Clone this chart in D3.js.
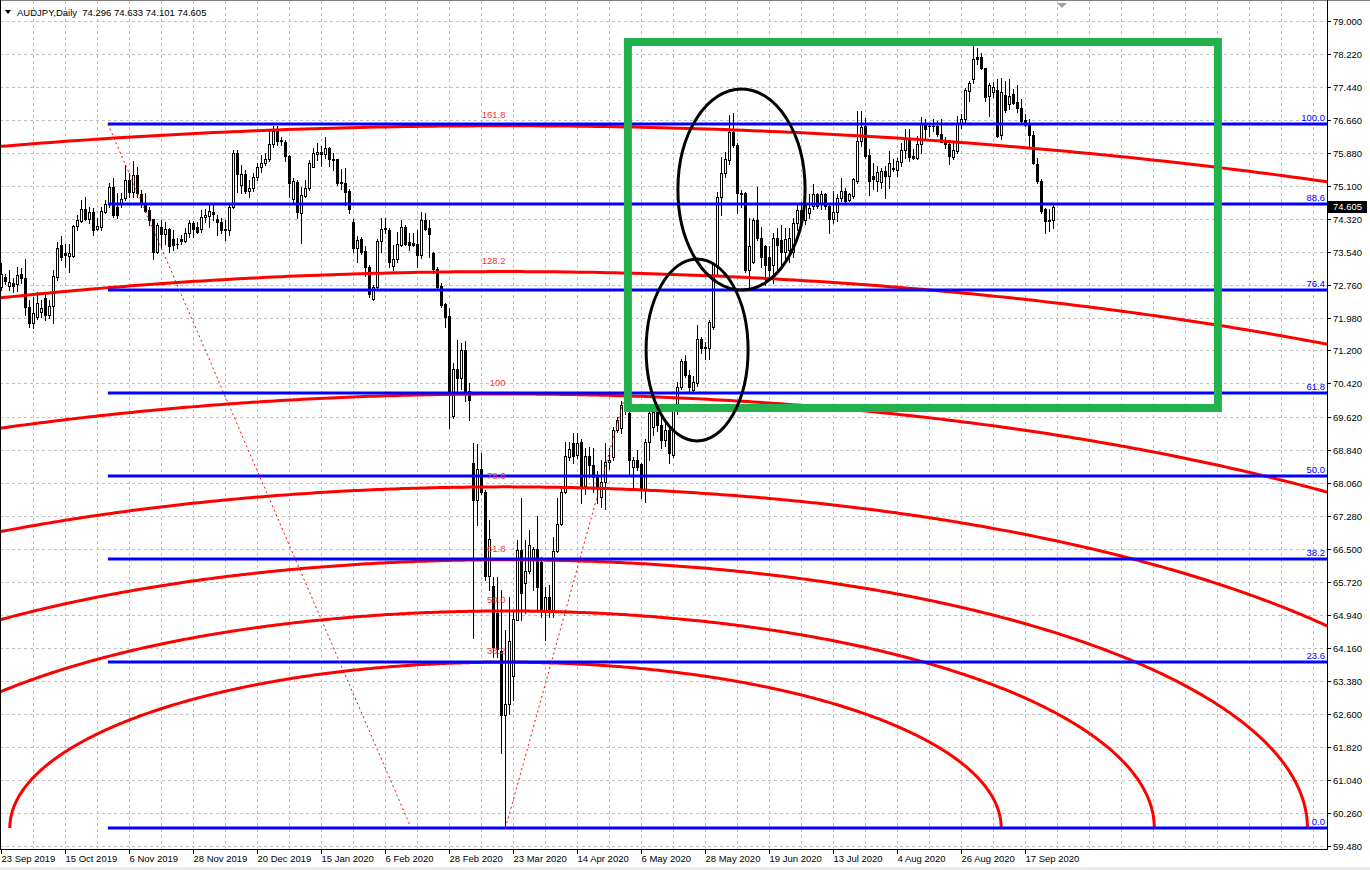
<!DOCTYPE html>
<html><head><meta charset="utf-8">
<script src="https://cdn.jsdelivr.net/npm/d3@7"></script>
<style>body{margin:0;background:#fff}svg{display:block}text{font-family:"Liberation Sans",Arial,sans-serif}</style>
</head><body><svg id="c" width="1370" height="870"></svg>
<script>
// ---------------- DATA ----------------
const opens=[
72.71,72.93,72.72,72.79,72.77,73.01,72.91,72.22,71.84,72.00,
72.12,72.43,72.04,72.25,72.93,73.70,73.50,73.44,73.44,74.15,
74.27,74.55,74.30,74.47,74.07,74.13,74.48,74.66,75.07,74.60,
74.68,74.80,75.23,74.96,75.35,74.89,74.70,74.52,74.30,73.54,
74.13,73.96,74.07,73.84,73.73,73.83,73.80,73.99,74.21,74.13,
74.07,74.35,74.39,74.48,74.31,74.25,74.07,74.06,74.59,75.86,
75.11,75.37,74.98,75.04,75.30,75.53,75.63,75.72,76.08,76.40,
76.17,76.12,75.80,74.78,75.19,74.46,74.86,75.04,75.55,75.85,
75.89,75.85,75.98,75.73,75.72,75.19,75.17,74.97,74.25,73.62,
73.84,73.56,73.17,72.41,72.69,73.79,74.07,74.05,73.20,73.36,
73.70,74.13,73.76,73.75,73.73,73.46,74.29,74.09,73.51,73.12,
72.73,72.30,72.02,69.64,70.76,70.54,71.21,70.23,68.55,67.66,
68.39,67.86,65.87,65.63,64.98,64.10,62.58,62.84,63.49,64.83,
66.48,65.69,65.99,66.28,66.50,66.20,65.05,65.38,65.05,66.46,
67.10,67.86,68.69,69.00,68.73,69.04,68.00,68.70,68.49,68.20,
67.74,68.10,68.57,68.69,69.33,69.36,69.90,69.71,68.45,68.61,
68.51,67.90,69.04,69.40,69.75,69.44,69.08,69.32,68.73,69.79,
70.34,70.94,70.62,70.27,70.42,71.46,71.28,71.27,71.76,73.18,
74.84,75.39,75.70,76.36,76.06,74.93,74.93,73.10,73.30,74.29,
73.85,73.66,73.42,73.22,73.85,73.81,73.54,73.58,73.54,74.21,
74.52,74.29,74.46,74.62,74.89,74.66,74.89,74.62,74.32,74.48,
74.81,74.97,74.76,74.85,75.21,76.15,76.51,75.82,75.33,75.21,
75.19,75.45,75.33,75.52,75.48,75.66,75.94,76.23,75.80,75.76,
76.08,76.55,76.51,76.50,76.50,76.33,76.19,76.08,75.78,75.92,
76.55,76.67,77.34,77.61,78.14,78.14,77.87,77.22,77.31,77.36,
76.29,77.24,77.02,77.26,77.08,76.94,76.64,76.53,76.29,75.60,
75.21,74.55,74.29,74.296];
const highs=[
73.26,73.02,73.10,72.91,73.18,73.14,73.36,72.39,72.47,72.59,
72.39,72.59,72.39,73.10,73.77,73.91,73.73,73.73,74.17,74.40,
74.76,74.84,74.60,74.56,74.33,74.60,74.76,75.17,75.27,74.92,
74.92,75.59,75.39,75.67,75.55,74.99,74.92,74.60,74.32,74.21,
74.29,74.25,74.09,74.05,73.85,73.93,74.09,74.29,74.26,74.25,
74.52,74.54,74.68,74.68,74.40,74.33,74.29,74.68,75.94,75.94,
75.59,75.47,75.23,75.39,75.63,75.82,75.86,76.41,76.50,76.50,
76.26,76.18,75.82,75.27,75.23,75.07,75.23,75.71,75.98,76.10,
76.04,76.26,76.02,75.88,75.74,75.49,75.51,75.03,74.30,73.90,
73.89,73.66,73.22,72.75,73.83,74.33,74.33,74.09,73.70,74.01,
74.29,74.17,73.97,73.97,74.05,74.48,74.44,74.29,73.54,73.18,
72.79,72.32,72.20,70.90,71.45,71.37,71.42,70.42,69.00,68.99,
68.78,67.90,67.19,65.85,65.85,65.53,64.60,65.38,65.06,66.72,
67.70,66.72,66.95,66.56,67.28,66.32,65.61,65.65,66.80,67.70,
67.98,69.04,69.04,69.25,69.26,69.10,68.90,68.92,68.90,68.35,
68.60,69.00,68.90,69.40,69.63,70.00,70.30,69.75,68.69,68.85,
68.53,69.10,69.75,69.90,69.85,69.63,69.50,69.36,69.87,70.45,
71.00,71.09,70.74,70.60,71.80,71.53,71.40,71.92,73.30,74.96,
75.78,75.90,76.77,76.81,76.10,75.00,74.96,74.33,74.33,75.07,
74.13,73.70,73.66,73.99,74.09,74.17,74.09,74.09,74.33,74.68,
74.72,74.95,74.89,75.13,74.93,74.97,74.93,74.66,74.97,74.89,
75.29,75.05,74.93,75.29,76.86,76.86,76.71,75.96,75.64,75.56,
75.52,75.56,75.92,75.72,75.76,76.11,76.43,76.43,75.96,76.27,
76.72,76.67,76.55,76.68,76.63,76.67,76.25,76.19,76.11,76.75,
76.79,77.42,77.57,78.40,78.36,78.24,77.89,77.53,77.55,77.61,
77.65,77.57,77.61,77.38,77.49,77.14,76.79,76.67,76.39,75.76,
75.25,74.58,74.54,74.633];
const lows=[
72.63,72.77,72.63,72.59,72.61,72.79,72.04,71.76,71.72,71.94,
72.00,71.92,71.96,71.84,72.87,73.34,73.18,73.06,73.42,74.05,
74.25,74.29,74.21,73.93,74.05,74.05,74.44,74.60,74.35,74.33,
74.60,74.76,74.84,74.84,74.84,74.60,74.48,74.17,73.36,73.50,
73.64,73.73,73.54,73.58,73.62,73.73,73.77,73.89,73.89,73.97,
74.01,74.25,74.13,74.29,73.93,73.97,73.81,73.93,74.56,74.96,
74.92,74.92,74.84,74.98,75.23,75.43,75.59,75.67,76.02,76.06,
76.06,75.67,74.84,74.72,74.33,73.75,74.84,75.00,75.53,75.71,
75.56,75.75,75.56,75.47,75.11,75.01,74.64,74.44,73.54,73.30,
73.48,72.95,72.47,72.39,72.63,73.54,73.97,73.17,73.11,73.30,
73.66,73.70,73.58,73.66,73.18,73.38,74.05,73.42,73.03,72.67,
72.24,71.76,69.36,69.60,70.25,70.30,70.01,69.56,64.40,67.07,
67.80,65.77,65.54,63.96,63.95,61.67,59.90,62.60,62.93,64.82,
64.83,64.98,65.93,65.53,65.06,64.90,64.35,64.90,64.90,66.44,
67.07,67.82,68.60,68.55,68.65,67.60,67.80,68.20,67.85,67.60,
67.50,67.45,68.40,68.60,69.28,69.25,69.70,68.29,67.98,68.37,
67.70,67.62,68.60,69.20,69.30,68.89,68.95,68.53,68.69,69.70,
70.30,70.58,70.23,70.20,70.35,71.13,71.00,71.00,71.70,73.00,
74.40,75.31,75.60,76.02,74.44,74.60,73.06,72.67,73.26,73.81,
73.18,72.75,72.90,72.79,73.10,73.22,73.30,73.30,73.42,74.05,
74.21,74.20,74.34,74.54,74.58,74.54,74.54,73.99,74.22,74.26,
74.74,74.70,74.74,74.81,75.17,76.04,75.76,74.87,75.01,74.97,
75.05,74.81,75.05,75.45,75.33,75.56,75.76,75.68,75.72,75.72,
75.86,76.19,76.27,76.39,76.27,76.13,76.00,75.60,75.72,75.88,
76.47,76.60,77.10,77.53,77.97,77.85,77.10,76.75,77.20,76.25,
76.20,76.83,76.90,77.02,76.85,76.55,76.51,76.04,75.60,75.17,
74.46,73.99,74.03,74.101];
const closes=[
73.02,72.85,72.83,72.73,72.98,72.91,72.22,71.84,72.08,72.32,
72.20,72.04,72.25,72.95,73.62,73.42,73.45,73.50,74.15,74.29,
74.55,74.31,74.48,74.05,74.14,74.50,74.66,75.07,74.40,74.40,
74.78,75.23,74.96,75.35,74.92,74.68,74.51,74.29,73.54,74.17,
73.96,74.07,73.67,73.70,73.71,73.78,73.99,74.21,74.07,74.01,
74.35,74.40,74.50,74.42,74.25,74.05,74.06,74.59,75.86,75.37,
75.37,74.97,75.04,75.30,75.53,75.63,75.72,76.08,76.39,76.16,
76.16,75.80,75.15,75.21,74.48,74.88,75.04,75.63,75.86,75.89,
75.85,75.98,75.72,75.71,75.15,75.15,74.96,74.54,73.62,73.82,
73.54,73.17,72.54,72.69,73.79,74.07,74.10,73.29,73.36,73.71,
74.13,73.73,73.70,73.70,73.46,74.29,74.07,73.96,73.12,72.71,
72.28,72.00,70.23,70.76,70.55,71.21,70.23,70.03,67.66,68.39,
67.86,65.87,66.73,64.19,64.15,62.58,62.84,64.33,64.85,66.48,
65.46,65.99,66.61,66.50,65.61,65.05,65.38,65.05,66.46,67.10,
67.86,68.70,68.86,68.70,69.02,68.00,68.70,68.49,68.20,67.98,
68.10,68.57,68.60,69.33,69.56,69.91,70.10,68.61,68.61,68.45,
67.90,69.04,69.71,69.75,69.44,69.08,69.32,68.77,69.79,70.34,
70.94,70.62,70.33,70.46,71.46,71.25,71.25,71.88,73.26,74.84,
75.39,75.74,76.36,76.06,74.92,74.90,73.10,73.66,74.29,73.85,
73.42,73.22,73.10,73.85,73.70,73.54,73.83,73.85,74.21,74.52,
74.25,74.64,74.58,74.89,74.62,74.89,74.62,74.30,74.48,74.81,
74.97,74.74,74.89,75.25,76.15,76.49,75.80,75.21,75.25,75.42,
75.45,75.33,75.64,75.49,75.68,75.94,76.23,75.78,75.76,76.08,
76.55,76.43,76.50,76.52,76.31,76.13,76.08,75.80,75.94,76.55,
76.67,77.36,77.53,78.09,78.10,77.87,77.20,77.47,77.44,76.27,
77.31,76.89,77.22,77.06,76.94,76.63,76.53,76.29,75.64,75.21,
74.50,74.26,74.26,74.605];

const dateLabels=["23 Sep 2019","15 Oct 2019","6 Nov 2019","28 Nov 2019","20 Dec 2019","15 Jan 2020","6 Feb 2020","28 Feb 2020","23 Mar 2020","14 Apr 2020","6 May 2020","28 May 2020","19 Jun 2020","13 Jul 2020","4 Aug 2020","26 Aug 2020","17 Sep 2020"];
const barsPerDateLabel=16;
const priceTicks=[79.000,78.220,77.440,76.660,75.880,75.100,74.320,73.540,72.760,71.980,71.200,70.420,69.620,68.840,68.060,67.280,66.500,65.720,64.940,64.160,63.380,62.600,61.820,61.040,60.260,59.480];

// Fibonacci retracement (blue)
const fiboLevels=[0,23.6,38.2,50.0,61.8,76.4,88.6,100.0];
const fiboHigh={bar:26.6,price:76.557};
const fiboLow={bar:102.4,price:59.906};
// Fibonacci arcs (red)
const arcLevels=[38.2,50.0,61.8,78.6,100,128.2,161.8];
const arcLabels=["38.2","50.0","61.8","78.6","100","128.2","161.8"];
const arcCenter={bar:126,price:59.906};
const arcAnchor={bar:156,price:70.171};
const arcWidthBars=324.4; // horizontal radius at level 100
// annotations
const ellipses=[{bar:185,price:75.007,rBars:15.9,rPrice:2.377},{bar:173.9,price:71.212,rBars:12.75,rPrice:2.152}];
const box={bar0:156.6,bar1:304.1,p0:78.496,p1:69.84};
const title="AUDJPY,Daily  74.296 74.633 74.101 74.605";
const lastPrice=74.605;

// ---------------- DRAW ----------------
const W=1370,H=870,PR=1327,PB=849,PT=1;
const svg=d3.select('#c');
const x=d3.scaleLinear().domain([0,16]).range([1.5,65.5]);
const y=d3.scaleLinear().domain([59.48,79.0]).range([846.0,20.7]);
const FS='9.5px';

svg.append('rect').attr('width',W).attr('height',H).attr('fill','#fff');
svg.append('rect').attr('x',0).attr('y',867).attr('width',W).attr('height',3).attr('fill','#ececec');
svg.append('defs').append('clipPath').attr('id','plot').append('rect')
  .attr('x',1).attr('y',PT).attr('width',PR-1).attr('height',PB-PT);
const g=svg.append('g').attr('clip-path','url(#plot)');

// grid
const grid=g.append('g').attr('stroke','#c0c0c0').attr('stroke-width',1).attr('stroke-dasharray','3,3');
priceTicks.forEach(t=>{const yy=Math.round(y(t))+0.5;grid.append('line').attr('x1',0).attr('x2',PR).attr('y1',yy).attr('y2',yy);});
for(let b=8;x(b)<PR;b+=8){grid.append('line').attr('x1',x(b)).attr('x2',x(b)).attr('y1',PT).attr('y2',PB);}

// candles
const cg=g.append('g');
opens.forEach((o,i)=>{
  const c=closes[i],h=highs[i],l=lows[i],cx=x(i);
  cg.append('line').attr('x1',cx).attr('x2',cx).attr('y1',Math.round(y(h))).attr('y2',Math.round(y(l))+1).attr('stroke','#000').attr('stroke-width',1);
  const yt=Math.round(y(Math.max(o,c))),yb=Math.round(y(Math.min(o,c)));
  if(c>=o){
    if(yb-yt<1){cg.append('rect').attr('x',cx-1.5).attr('y',yt).attr('width',3).attr('height',1).attr('fill','#000');}
    else cg.append('rect').attr('x',cx-1).attr('y',yt+0.5).attr('width',2).attr('height',yb-yt).attr('fill','#fff').attr('stroke','#000').attr('stroke-width',1);
  } else {
    cg.append('rect').attr('x',cx-1.5).attr('y',yt).attr('width',3).attr('height',Math.max(1,yb-yt+1)).attr('fill','#000');
  }
});

// fibo arcs
const acx=x(arcCenter.bar),acy=y(arcCenter.price);
const unitRy=acy-y(arcAnchor.price);
const unitRx=x(arcCenter.bar+arcWidthBars)-acx;
const ag=g.append('g');
arcLevels.forEach((L,j)=>{
  const ry=unitRy*L/100,rx=unitRx*L/100;
  const pts=d3.range(0,721).map(k=>{const t=Math.PI*k/720;return [acx+rx*Math.cos(t),acy-ry*Math.sin(t)];});
  ag.append('path').attr('d',d3.line()(pts)).attr('fill','none').attr('stroke','#ff0000').attr('stroke-width',3);
});

// fibo retracement lines
const fg=g.append('g');
const fx0=x(fiboHigh.bar);
fiboLevels.forEach(L=>{
  const p=fiboLow.price+(fiboHigh.price-fiboLow.price)*L/100;
  const yy=Math.round(y(p));
  fg.append('line').attr('x1',fx0).attr('x2',PR).attr('y1',yy).attr('y2',yy).attr('stroke','#0000ff').attr('stroke-width',3);
});
// dotted trend lines
g.append('line').attr('x1',x(fiboHigh.bar)).attr('y1',y(fiboHigh.price)).attr('x2',x(fiboLow.bar)).attr('y2',y(fiboLow.price))
  .attr('stroke','#ff0000').attr('stroke-width',1).attr('stroke-dasharray','2,3');
g.append('line').attr('x1',acx).attr('y1',acy).attr('x2',x(arcAnchor.bar)).attr('y2',y(arcAnchor.price))
  .attr('stroke','#ff0000').attr('stroke-width',1).attr('stroke-dasharray','2,3');
// arc labels
arcLevels.forEach((L,j)=>{
  g.append('text').attr('x',acx).attr('y',acy-unitRy*L/100-8).attr('text-anchor','end').attr('font-size',FS).attr('fill','#ff3030').text(arcLabels[j]);
});
// fibo labels
fiboLevels.forEach(L=>{
  const p=fiboLow.price+(fiboHigh.price-fiboLow.price)*L/100;
  g.append('text').attr('x',PR-2).attr('y',Math.round(y(p))-3).attr('text-anchor','end').attr('font-size',FS).attr('fill','#0000ff').text(L.toFixed(1));
});
// green rectangle
g.append('rect').attr('x',x(box.bar0)).attr('y',y(box.p0)).attr('width',x(box.bar1)-x(box.bar0)).attr('height',y(box.p1)-y(box.p0))
  .attr('fill','none').attr('stroke','#22b14c').attr('stroke-width',8);
// ellipses
ellipses.forEach(e=>{
  g.append('ellipse').attr('cx',x(e.bar)).attr('cy',y(e.price)).attr('rx',x(e.bar+e.rBars)-x(e.bar)).attr('ry',y(e.price-e.rPrice)-y(e.price))
   .attr('fill','none').attr('stroke','#000').attr('stroke-width',3);
});

// frame
svg.append('line').attr('x1',0).attr('x2',W).attr('y1',0.5).attr('y2',0.5).attr('stroke','#808080');
svg.append('line').attr('x1',0.5).attr('x2',0.5).attr('y1',0).attr('y2',PB).attr('stroke','#000');
svg.append('line').attr('x1',PR+0.5).attr('x2',PR+0.5).attr('y1',0).attr('y2',PB+1).attr('stroke','#000');
svg.append('line').attr('x1',0).attr('x2',PR+1).attr('y1',PB+0.5).attr('y2',PB+0.5).attr('stroke','#000');
svg.append('path').attr('d','M1057,3L1067,3L1062,8Z').attr('fill','#a0a0a0');

// price axis
priceTicks.forEach(t=>{
  const yy=Math.round(y(t))+0.5;
  svg.append('line').attr('x1',PR).attr('x2',PR+4).attr('y1',yy).attr('y2',yy).attr('stroke','#000');
  svg.append('text').attr('x',PR+6).attr('y',yy).attr('dy','0.35em').attr('font-size',FS).attr('fill','#000').text(t.toFixed(3));
});
// current price
const ly=Math.round(y(lastPrice));
svg.append('rect').attr('x',PR+1).attr('y',ly-6).attr('width',39).attr('height',12).attr('fill','#000');
svg.append('text').attr('x',PR+6).attr('y',ly).attr('dy','0.35em').attr('font-size',FS).attr('fill','#fff').text(lastPrice.toFixed(3));

// time axis
dateLabels.forEach((s,k)=>{
  const xx=x(k*barsPerDateLabel);
  svg.append('line').attr('x1',xx).attr('x2',xx).attr('y1',PB).attr('y2',PB+5).attr('stroke','#000');
  svg.append('text').attr('x',xx).attr('y',862).attr('font-size',FS).attr('fill','#000').text(s);
});

// title
svg.append('path').attr('d','M5,10L11,10L8,14Z').attr('fill','#000');
svg.append('text').attr('x',17).attr('y',16).attr('font-size',FS).attr('fill','#000').style('white-space','pre').text(title);
</script></body></html>
